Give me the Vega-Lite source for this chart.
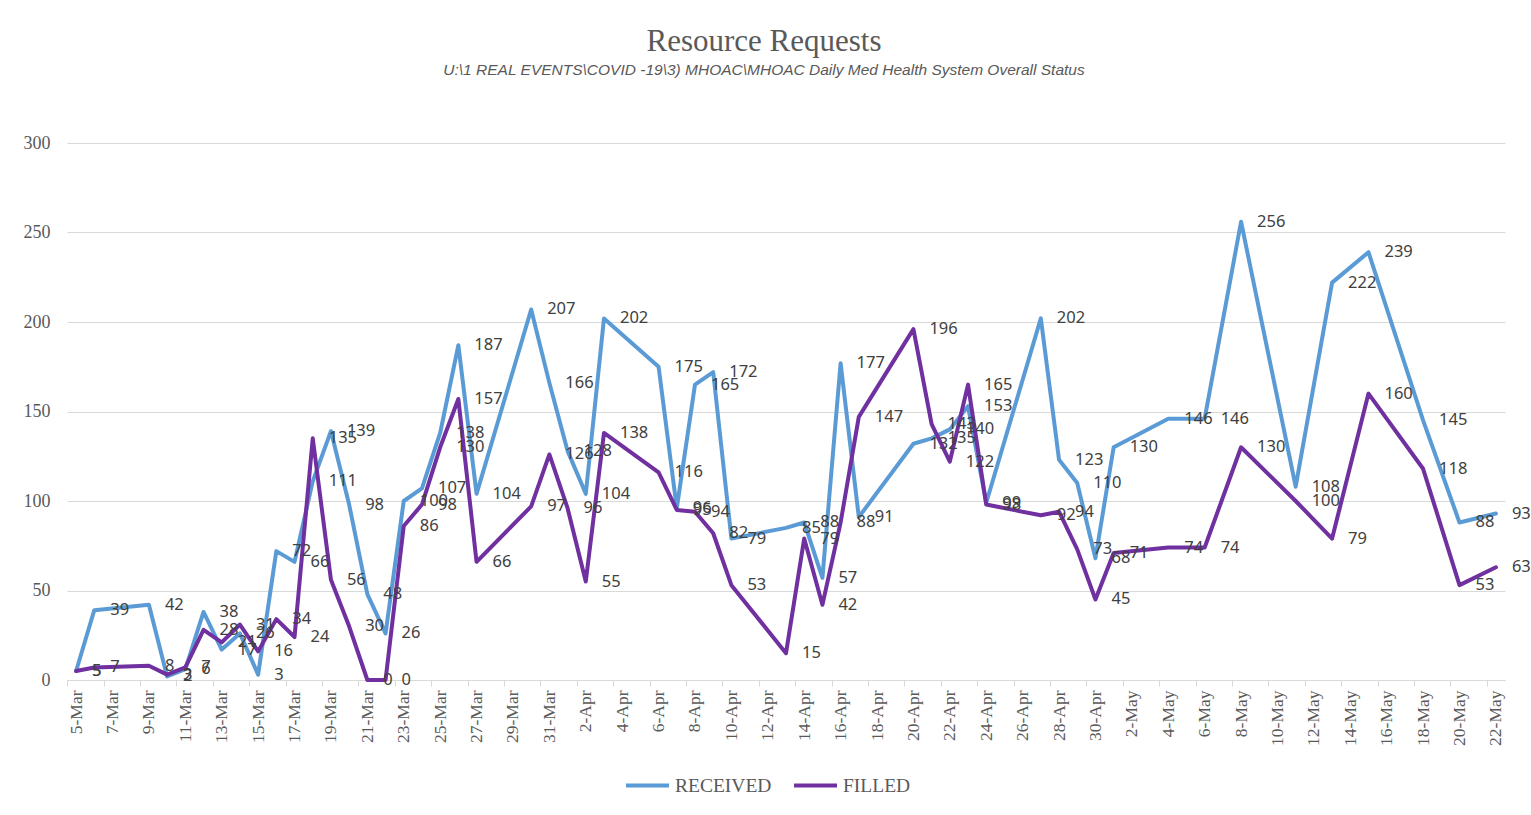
{
  "$schema": "https://vega.github.io/schema/vega-lite/v6.json",
  "width": 1438,
  "height": 537,
  "autosize": {"type": "none"},
  "padding": {"left": 67, "top": 143, "right": 26, "bottom": 135},
  "background": "white",
  "title": {
    "text": "Resource Requests",
    "subtitle": "U:\\1 REAL EVENTS\\COVID -19\\3) MHOAC\\MHOAC Daily Med Health System Overall Status",
    "anchor": "middle",
    "frame": "group",
    "dx": -22,
    "offset": 55,
    "font": "Liberation Serif",
    "fontSize": 31,
    "fontWeight": "normal",
    "color": "#595959",
    "subtitleFont": "Liberation Sans",
    "subtitleFontSize": 15.5,
    "subtitleFontStyle": "italic",
    "subtitleColor": "#595959",
    "subtitlePadding": 5
  },
  "data": {
    "values": [
      {"date": "2020-03-05", "RECEIVED": 5, "FILLED": 5},
      {"date": "2020-03-06", "RECEIVED": 39, "FILLED": 7},
      {"date": "2020-03-09", "RECEIVED": 42, "FILLED": 8},
      {"date": "2020-03-10", "RECEIVED": 2, "FILLED": 3},
      {"date": "2020-03-11", "RECEIVED": 6, "FILLED": 7},
      {"date": "2020-03-12", "RECEIVED": 38, "FILLED": 28},
      {"date": "2020-03-13", "RECEIVED": 17, "FILLED": 21},
      {"date": "2020-03-14", "RECEIVED": 26, "FILLED": 31},
      {"date": "2020-03-15", "RECEIVED": 3, "FILLED": 16},
      {"date": "2020-03-16", "RECEIVED": 72, "FILLED": 34},
      {"date": "2020-03-17", "RECEIVED": 66, "FILLED": 24},
      {"date": "2020-03-18", "RECEIVED": 111, "FILLED": 135},
      {"date": "2020-03-19", "RECEIVED": 139, "FILLED": 56},
      {"date": "2020-03-20", "RECEIVED": 98, "FILLED": 30},
      {"date": "2020-03-21", "RECEIVED": 48, "FILLED": 0},
      {"date": "2020-03-22", "RECEIVED": 26, "FILLED": 0},
      {"date": "2020-03-23", "RECEIVED": 100, "FILLED": 86},
      {"date": "2020-03-24", "RECEIVED": 107, "FILLED": 98},
      {"date": "2020-03-25", "RECEIVED": 138, "FILLED": 130},
      {"date": "2020-03-26", "RECEIVED": 187, "FILLED": 157},
      {"date": "2020-03-27", "RECEIVED": 104, "FILLED": 66},
      {"date": "2020-03-30", "RECEIVED": 207, "FILLED": 97},
      {"date": "2020-03-31", "RECEIVED": 166, "FILLED": 126},
      {"date": "2020-04-01", "RECEIVED": 128, "FILLED": 96},
      {"date": "2020-04-02", "RECEIVED": 104, "FILLED": 55},
      {"date": "2020-04-03", "RECEIVED": 202, "FILLED": 138},
      {"date": "2020-04-06", "RECEIVED": 175, "FILLED": 116},
      {"date": "2020-04-07", "RECEIVED": 96, "FILLED": 95},
      {"date": "2020-04-08", "RECEIVED": 165, "FILLED": 94},
      {"date": "2020-04-09", "RECEIVED": 172, "FILLED": 82},
      {"date": "2020-04-10", "RECEIVED": 79, "FILLED": 53},
      {"date": "2020-04-13", "RECEIVED": 85, "FILLED": 15},
      {"date": "2020-04-14", "RECEIVED": 88, "FILLED": 79},
      {"date": "2020-04-15", "RECEIVED": 57, "FILLED": 42},
      {"date": "2020-04-16", "RECEIVED": 177, "FILLED": 88},
      {"date": "2020-04-17", "RECEIVED": 91, "FILLED": 147},
      {"date": "2020-04-20", "RECEIVED": 132, "FILLED": 196},
      {"date": "2020-04-21", "RECEIVED": 135, "FILLED": 143},
      {"date": "2020-04-22", "RECEIVED": 140, "FILLED": 122},
      {"date": "2020-04-23", "RECEIVED": 153, "FILLED": 165},
      {"date": "2020-04-24", "RECEIVED": 99, "FILLED": 98},
      {"date": "2020-04-27", "RECEIVED": 202, "FILLED": 92},
      {"date": "2020-04-28", "RECEIVED": 123, "FILLED": 94},
      {"date": "2020-04-29", "RECEIVED": 110, "FILLED": 73},
      {"date": "2020-04-30", "RECEIVED": 68, "FILLED": 45},
      {"date": "2020-05-01", "RECEIVED": 130, "FILLED": 71},
      {"date": "2020-05-04", "RECEIVED": 146, "FILLED": 74},
      {"date": "2020-05-06", "RECEIVED": 146, "FILLED": 74},
      {"date": "2020-05-08", "RECEIVED": 256, "FILLED": 130},
      {"date": "2020-05-11", "RECEIVED": 108, "FILLED": 100},
      {"date": "2020-05-13", "RECEIVED": 222, "FILLED": 79},
      {"date": "2020-05-15", "RECEIVED": 239, "FILLED": 160},
      {"date": "2020-05-18", "RECEIVED": 145, "FILLED": 118},
      {"date": "2020-05-20", "RECEIVED": 88, "FILLED": 53},
      {"date": "2020-05-22", "RECEIVED": 93, "FILLED": 63}
    ]
  },
  "transform": [{"fold": ["RECEIVED", "FILLED"], "as": ["series", "value"]}],
  "encoding": {
    "x": {
      "field": "date",
      "type": "temporal",
      "scale": {
        "type": "utc",
        "domain": [
          {"year": 2020, "month": 3, "date": 4, "hours": 12, "utc": true},
          {"year": 2020, "month": 5, "date": 22, "hours": 12, "utc": true}
        ]
      },
      "axis": {
        "title": null,
        "values": [
          {"year": 2020, "month": 3, "date": 5, "utc": true},
          {"year": 2020, "month": 3, "date": 7, "utc": true},
          {"year": 2020, "month": 3, "date": 9, "utc": true},
          {"year": 2020, "month": 3, "date": 11, "utc": true},
          {"year": 2020, "month": 3, "date": 13, "utc": true},
          {"year": 2020, "month": 3, "date": 15, "utc": true},
          {"year": 2020, "month": 3, "date": 17, "utc": true},
          {"year": 2020, "month": 3, "date": 19, "utc": true},
          {"year": 2020, "month": 3, "date": 21, "utc": true},
          {"year": 2020, "month": 3, "date": 23, "utc": true},
          {"year": 2020, "month": 3, "date": 25, "utc": true},
          {"year": 2020, "month": 3, "date": 27, "utc": true},
          {"year": 2020, "month": 3, "date": 29, "utc": true},
          {"year": 2020, "month": 3, "date": 31, "utc": true},
          {"year": 2020, "month": 4, "date": 2, "utc": true},
          {"year": 2020, "month": 4, "date": 4, "utc": true},
          {"year": 2020, "month": 4, "date": 6, "utc": true},
          {"year": 2020, "month": 4, "date": 8, "utc": true},
          {"year": 2020, "month": 4, "date": 10, "utc": true},
          {"year": 2020, "month": 4, "date": 12, "utc": true},
          {"year": 2020, "month": 4, "date": 14, "utc": true},
          {"year": 2020, "month": 4, "date": 16, "utc": true},
          {"year": 2020, "month": 4, "date": 18, "utc": true},
          {"year": 2020, "month": 4, "date": 20, "utc": true},
          {"year": 2020, "month": 4, "date": 22, "utc": true},
          {"year": 2020, "month": 4, "date": 24, "utc": true},
          {"year": 2020, "month": 4, "date": 26, "utc": true},
          {"year": 2020, "month": 4, "date": 28, "utc": true},
          {"year": 2020, "month": 4, "date": 30, "utc": true},
          {"year": 2020, "month": 5, "date": 2, "utc": true},
          {"year": 2020, "month": 5, "date": 4, "utc": true},
          {"year": 2020, "month": 5, "date": 6, "utc": true},
          {"year": 2020, "month": 5, "date": 8, "utc": true},
          {"year": 2020, "month": 5, "date": 10, "utc": true},
          {"year": 2020, "month": 5, "date": 12, "utc": true},
          {"year": 2020, "month": 5, "date": 14, "utc": true},
          {"year": 2020, "month": 5, "date": 16, "utc": true},
          {"year": 2020, "month": 5, "date": 18, "utc": true},
          {"year": 2020, "month": 5, "date": 20, "utc": true},
          {"year": 2020, "month": 5, "date": 22, "utc": true}
        ],
        "format": "%-d-%b",
        "labelAngle": 270,
        "labelAlign": "right",
        "labelBaseline": "middle",
        "labelFont": "Liberation Serif",
        "labelFontSize": 17.5,
        "labelColor": "#595959",
        "labelPadding": 4,
        "labelOverlap": false,
        "labelFlush": false,
        "labelBound": false,
        "tickColor": "#d9d9d9",
        "tickSize": 6,
        "tickOffset": -9,
        "labelOffset": 9,
        "domainColor": "#d9d9d9",
        "grid": false
      }
    },
    "y": {
      "field": "value",
      "type": "quantitative",
      "scale": {"domain": [0, 300]},
      "axis": {
        "title": null,
        "values": [0, 50, 100, 150, 200, 250, 300],
        "grid": true,
        "gridColor": "#d9d9d9",
        "domain": false,
        "ticks": false,
        "labelFont": "Liberation Serif",
        "labelFontSize": 18,
        "labelColor": "#595959",
        "labelPadding": 17
      }
    },
    "color": {
      "field": "series",
      "type": "nominal",
      "scale": {"domain": ["RECEIVED", "FILLED"], "range": ["#5B9BD5", "#7030A0"]},
      "legend": {
        "orient": "none",
        "legendX": 557,
        "legendY": 619,
        "direction": "horizontal",
        "title": null,
        "symbolType": "stroke",
        "symbolSize": 1849,
        "symbolStrokeWidth": 4,
        "labelFont": "Liberation Serif",
        "labelFontSize": 19.5,
        "labelColor": "#595959",
        "labelOffset": 4,
        "columnPadding": 14
      }
    }
  },
  "layer": [
    {
      "transform": [{"filter": "datum.series === 'RECEIVED'"}],
      "mark": {"type": "line", "strokeWidth": 4, "strokeJoin": "round", "strokeCap": "round"}
    },
    {
      "transform": [{"filter": "datum.series === 'FILLED'"}],
      "mark": {"type": "line", "strokeWidth": 4, "strokeJoin": "round", "strokeCap": "round"}
    },
    {
      "mark": {"type": "text", "align": "left", "baseline": "middle", "dx": 16, "font": "Noto Sans", "fontSize": 16.5},
      "encoding": {
        "text": {"field": "value", "type": "quantitative"},
        "color": {"value": "#404040"}
      }
    }
  ],
  "config": {"view": {"stroke": null}}
}
